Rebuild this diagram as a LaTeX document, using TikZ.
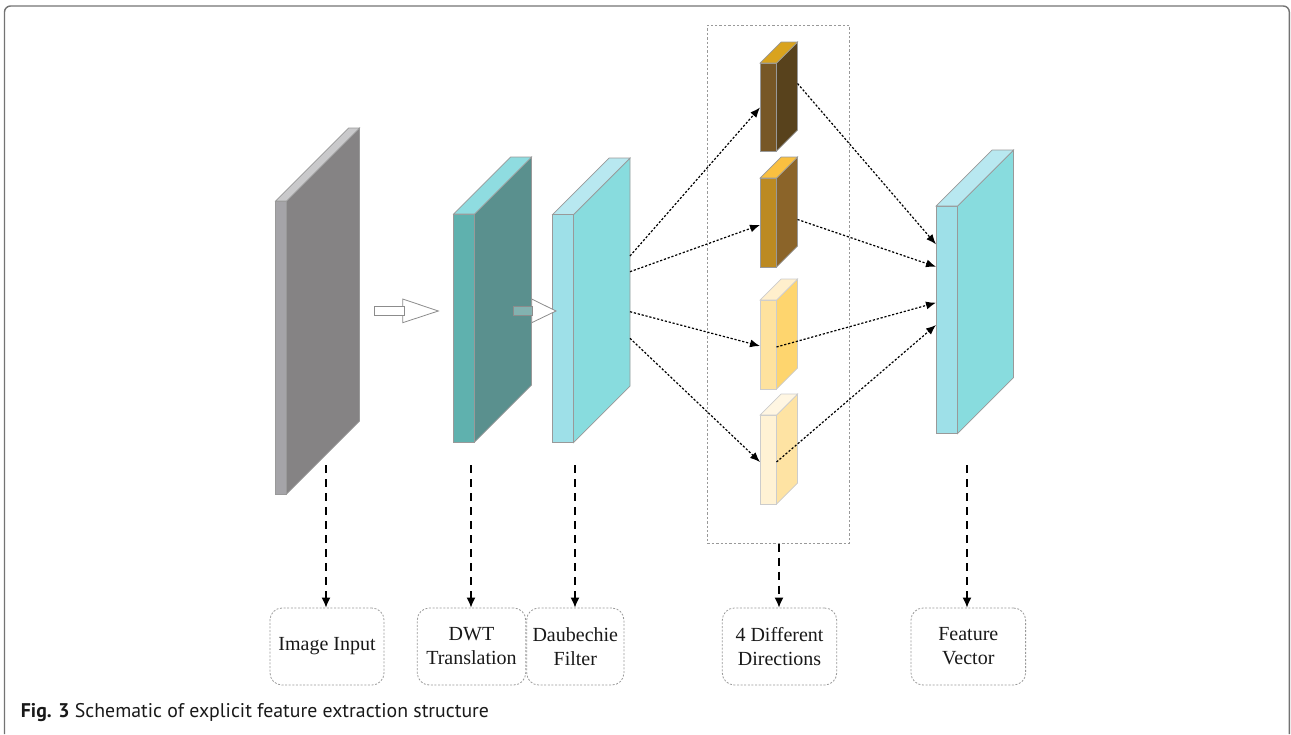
\documentclass[tikz,border=0pt]{standalone}
\usepackage{fontspec}
\setmainfont{Liberation Serif}
\newfontfamily\capfont{PT Sans}
\usetikzlibrary{arrows.meta}

\definecolor{inF}{HTML}{A5A4A8}
\definecolor{inS}{HTML}{858384}
\definecolor{inT}{HTML}{C9C9CB}
\definecolor{dwtF}{HTML}{5FB1AE}
\definecolor{dwtS}{HTML}{5A908E}
\definecolor{dwtT}{HTML}{8FDCE0}
\definecolor{cyF}{HTML}{9EE0E8}
\definecolor{cyS}{HTML}{88DCDE}
\definecolor{cyT}{HTML}{B8E8F0}
\definecolor{aF}{HTML}{775726}
\definecolor{aS}{HTML}{58421C}
\definecolor{aT}{HTML}{D9A31E}
\definecolor{bF}{HTML}{BC8A22}
\definecolor{bS}{HTML}{8B6429}
\definecolor{bT}{HTML}{FAC040}
\definecolor{cF}{HTML}{FEE29E}
\definecolor{cS}{HTML}{FED56E}
\definecolor{cT}{HTML}{FFEFCC}
\definecolor{dF}{HTML}{FFF2D4}
\definecolor{dS}{HTML}{FEE3A3}
\definecolor{dT}{HTML}{FFF6E2}
\definecolor{shaft}{HTML}{8AB8B6}

% box in perspective: xl xr ytop ybot depth front side top
\newcommand{\cuboid}[8]{%
  \filldraw[edge,fill=#6] (#1,#3) rectangle (#2,#4);
  \filldraw[edge,fill=#7] (#2,#3) -- ++(#5,-#5) -- ++(0,#4-#3) -- (#2,#4) -- cycle;
  \filldraw[edge,fill=#8] (#1,#3) -- ++(#5,-#5) -- ++(#2-#1,0) -- (#2,#3) -- cycle;
}

\tikzset{
  edge/.style={draw=black!40,line width=0.35pt},
  flow/.style={line width=0.6pt,dash pattern=on 1.1pt off 0.9pt,-{Latex[length=5pt,width=4pt]}},
  down/.style={line width=0.7pt,dash pattern=on 4pt off 3pt,-{Latex[length=5pt,width=4.5pt]}},
  lbl/.style={draw=black!40,line width=0.4pt,dash pattern=on 1pt off 0.8pt,rounded corners=6pt,
    minimum height=38.5pt,inner sep=0pt,align=center,text=black!90,font=\fontsize{10}{12}\selectfont},
  grp/.style={draw=black!40,line width=0.4pt,dash pattern=on 1.2pt off 1pt,inner sep=0pt},
  hollow/.style={draw=black!45,line width=0.4pt,fill=white},
}

\begin{document}
\begin{tikzpicture}[x=0.5pt,y=-0.5pt]
  \useasboundingbox (0,0) rectangle (1291,734);
  \draw[black!55,line width=0.7pt,rounded corners=3pt] (4.5,734) -- (4.5,6) -- (1289.3,6) -- (1289.3,734);

  % slabs
  \cuboid{275.5}{286.5}{201}{494}{73}{inF}{inS}{inT}
  \cuboid{453.5}{474.5}{214}{442}{57}{dwtF}{dwtS}{dwtT}
  \cuboid{552.5}{573.5}{214.5}{442.5}{56.5}{cyF}{cyS}{cyT}
  \cuboid{936}{957.5}{206}{433.5}{56}{cyF}{cyS}{cyT}

  % four directions
  \node[grp,minimum width=71pt,minimum height=259pt] (dirbox) at (778.3,284.2) {};
  \cuboid{760}{776.5}{63}{151}{21}{aF}{aS}{aT}
  \cuboid{760}{776.5}{178}{267}{21}{bF}{bS}{bT}
  \begin{scope}[edge/.append style={draw=black!20}]
  \cuboid{760}{776.5}{300}{389}{21}{cF}{cS}{cT}
  \cuboid{760}{776.5}{415}{504}{21}{dF}{dS}{dT}
  \end{scope}

  % hollow arrows
  \filldraw[hollow] (402.7,299) -- (438.3,311) -- (402.7,322.7) -- cycle;
  \filldraw[hollow] (374,306.7) rectangle (404.3,315.7);
  \filldraw[hollow] (531.7,299) -- (556,311) -- (531.7,322.7) -- cycle;
  \filldraw[hollow,fill=shaft,fill opacity=0.85] (513.3,306.7) rectangle (532.7,315.7);

  % ends of the dotted arrows
  \coordinate (o1) at (630,256);
  \coordinate (o2) at (630,271.7);
  \coordinate (o3) at (630,311.7);
  \coordinate (o4) at (630,338.3);
  \coordinate (a-in) at (760,107.5);
  \coordinate (b-in) at (760,225);
  \coordinate (c-in) at (760,346);
  \coordinate (d-in) at (760,462);
  \coordinate (a-out) at (797.5,83.5);
  \coordinate (b-out) at (797.5,219.5);
  \coordinate (c-out) at (776.5,347);
  \coordinate (d-out) at (776.5,462);
  \coordinate (v1) at (936,244.3);
  \coordinate (v2) at (936,266.7);
  \coordinate (v3) at (936,302.7);
  \coordinate (v4) at (936,325);

  \draw[flow] (o1) -- (a-in);
  \draw[flow] (o2) -- (b-in);
  \draw[flow] (o3) -- (c-in);
  \draw[flow] (o4) -- (d-in);
  \draw[flow] (a-out) -- (v1);
  \draw[flow] (b-out) -- (v2);
  \draw[flow] (c-out) -- (v3);
  \draw[flow] (d-out) -- (v4);

  % labels
  \node[lbl,minimum width=57pt] (img) at (327,646.5) {Image Input};
  \node[lbl,minimum width=54.2pt] (dwt) at (471.5,646.5) {DWT\\Translation};
  \node[lbl,minimum width=48.6pt] (dau) at (575.3,646.5) {Daubechie\\Filter};
  \node[lbl,minimum width=57.2pt] (dir) at (779.5,646.5) {4 Different\\Directions};
  \node[lbl,minimum width=57.3pt] (fv) at (968.3,646.5) {Feature\\Vector};

  \coordinate (s1) at (326,465);
  \coordinate (s2) at (471,465);
  \coordinate (s3) at (575,465);
  \coordinate (s4) at (779,543.5);
  \coordinate (s5) at (967,465);
  \draw[down] (s1) -- (s1 |- img.north);
  \draw[down] (s2) -- (s2 |- dwt.north);
  \draw[down] (s3) -- (s3 |- dau.north);
  \draw[down] (s4) -- (s4 |- dir.north);
  \draw[down] (s5) -- (s5 |- fv.north);

  \node[anchor=base west,inner sep=0pt,text=black!90,font=\capfont\fontsize{9.9}{12}\selectfont] (cap) at (20.5,717)
    {\textbf{Fig. 3} Schematic of explicit feature extraction structure};
\end{tikzpicture}
\end{document}
